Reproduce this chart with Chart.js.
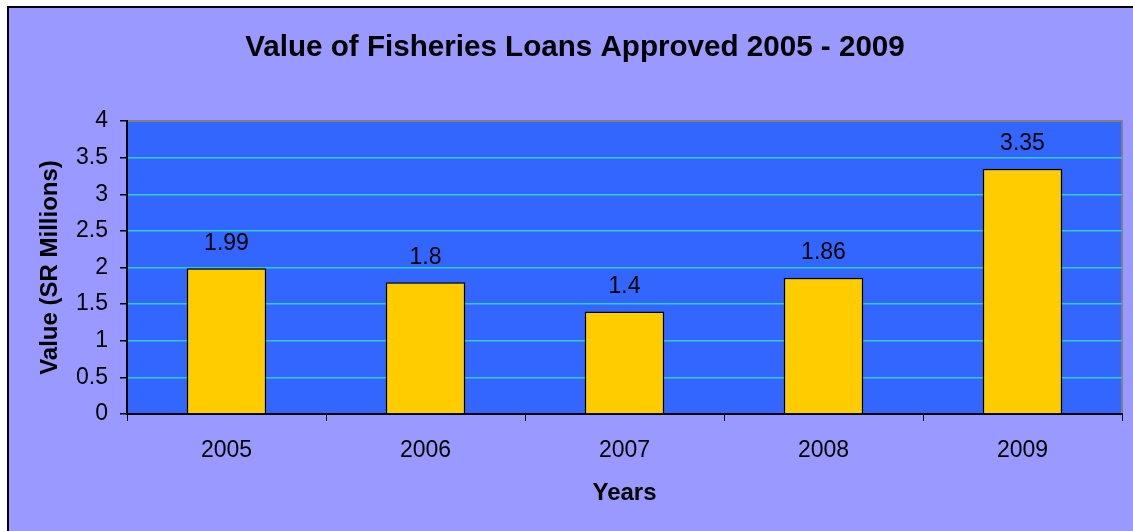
<!DOCTYPE html>
<html>
<head>
<meta charset="utf-8">
<title>Value of Fisheries Loans Approved 2005 - 2009</title>
<script src="https://cdn.jsdelivr.net/npm/chart.js@4.4.1/dist/chart.umd.min.js"></script>
<style>
  html, body { margin:0; padding:0; background:#fff; }
  #wrap { width:1133px; height:531px; }
</style>
</head>
<body>
<div id="wrap"><canvas id="chart" width="1133" height="531"></canvas></div>
<script>
const years = ["2005","2006","2007","2008","2009"];
const loanValues = [1.99, 1.8, 1.4, 1.86, 3.35];
const yTicks = [0, 0.5, 1, 1.5, 2, 2.5, 3, 3.5, 4];

const FONT = "'Liberation Sans', Arial, sans-serif";

// outer frame + blue plot area
const framePlugin = {
  id:"frame",
  beforeDraw(chart){
    const { ctx, chartArea:a, width, height } = chart;
    ctx.save();
    ctx.fillStyle = "#fff";
    ctx.fillRect(0, 0, width, height);
    ctx.fillStyle = "#9999FF";
    ctx.fillRect(8, 7, width - 8, height - 7);
    ctx.strokeStyle = "#000";
    ctx.lineWidth = 2;
    ctx.beginPath();
    ctx.moveTo(8, height);
    ctx.lineTo(8, 7);
    ctx.lineTo(width, 7);
    ctx.stroke();
    ctx.fillStyle = "#3366FF";
    ctx.fillRect(a.left, a.top, a.right - a.left, a.bottom - a.top);
    ctx.strokeStyle = "#808080";
    ctx.lineWidth = 2;
    ctx.beginPath();
    ctx.moveTo(a.left, a.top);
    ctx.lineTo(a.right, a.top);
    ctx.lineTo(a.right, a.bottom);
    ctx.stroke();
    ctx.restore();
  }
};

// value labels above the bars
const valueLabels = {
  id:"valueLabels",
  afterDatasetsDraw(chart){
    const { ctx } = chart;
    const meta = chart.getDatasetMeta(0);
    ctx.save();
    ctx.font = `23px ${FONT}`;
    ctx.fillStyle = "#000";
    ctx.textAlign = "center";
    ctx.textBaseline = "middle";
    meta.data.forEach((bar, i) => {
      ctx.fillText(String(loanValues[i]), bar.x, bar.y - 25);
    });
    ctx.restore();
  }
};

new Chart(document.getElementById("chart"), {
  type:"bar",
  data:{
    labels: years,
    datasets:[{
      data: loanValues,
      backgroundColor:"#FFCC00",
      borderColor:"#000",
      borderWidth:1.5,
      categoryPercentage:1,
      barPercentage:0.4
    }]
  },
  options:{
    responsive:false,
    animation:false,
    layout:{ padding:{ left:28, right:11, top:0, bottom:0 } },
    plugins:{
      legend:{ display:false },
      tooltip:{ enabled:false },
      title:{
        display:true,
        text:"Value of Fisheries Loans Approved 2005 - 2009",
        color:"#000",
        font:{ family:FONT, size:29.6, weight:"bold", lineHeight:1.2 },
        padding:{ top:30, bottom:55.5 }
      }
    },
    scales:{
      x:{
        afterFit(s){ s.height = 117; },
        grid:{ display:true, drawOnChartArea:false, offset:true, tickColor:"#000", tickLength:7, tickWidth:1 },
        border:{ color:"#000", width:2 },
        ticks:{ color:"#000", padding:16, font:{ family:FONT, size:23 }, maxRotation:0 },
        title:{
          display:true, text:"Years", color:"#000",
          font:{ family:FONT, size:24, weight:"bold", lineHeight:1.2 },
          padding:{ top:0, bottom:23 }
        }
      },
      y:{
        min:0, max:4,
        afterFit(s){ s.width = 99; },
        afterBuildTicks(s){ s.ticks = yTicks.map(v => ({ value:v })); },
        grid:{
          color:(c) => c.tick && c.tick.value === 4 ? "#808080" : "#33CCCC",
          lineWidth:1.5,
          tickColor:"#000",
          tickLength:7
        },
        border:{ color:"#000", width:2 },
        ticks:{ color:"#000", padding:12, font:{ family:FONT, size:23 }, callback:(v) => String(v) },
        title:{
          display:true, text:"Value (SR Millions)", color:"#000",
          font:{ family:FONT, size:24, weight:"bold", lineHeight:1.2 },
          padding:{ top:8, bottom:0 }
        }
      }
    }
  },
  plugins:[framePlugin, valueLabels]
});
</script>
</body>
</html>
